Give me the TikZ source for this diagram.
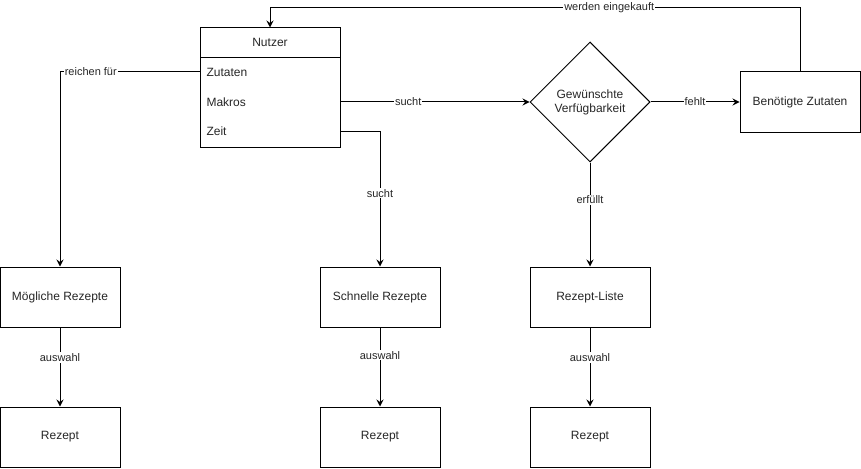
\documentclass[tikz,border=0pt]{standalone}
\usepackage{fontspec}
\setmainfont{Liberation Sans}
\usetikzlibrary{shapes.geometric,arrows.meta}
\begin{document}
\begin{tikzpicture}[x=1pt,y=-1pt,
  every node/.style={font=\fontsize{12}{14}\selectfont, text=black!85},
  box/.style={draw, line width=1pt, minimum width=120pt, minimum height=60pt, inner sep=0pt},
  flow/.style={draw, line width=1pt, -{Stealth[length=7pt,width=7pt,inset=2.5pt]}},
  lbl/.style={fill=white, inner sep=1pt, font=\fontsize{11}{13}\selectfont}
]
\useasboundingbox (0,0) rectangle (861,468);

% Nutzer list box with header and three rows
\node[draw, line width=1pt, minimum width=140pt, minimum height=119pt, inner sep=0pt] (nutzer) at (270,87.5) {};
\draw[line width=1pt] (200,57.5) -- (340,57.5);
\node (head) at (270,42.5) {Nutzer};
\node[anchor=west] (zutaten) at (203,72) {Zutaten};
\node[anchor=west] (makros) at (203,102) {Makros};
\node[anchor=west] (zeit) at (203,131) {Zeit};
\coordinate (zutL) at (200,72);
\coordinate (makR) at (340,102);
\coordinate (zeitR) at (340,131);

% decision and remaining boxes
\node[draw, line width=1pt, diamond, aspect=1, minimum width=120pt, minimum height=120pt, inner sep=0pt, align=center] (dec) at (590,102) {Gewünschte\\Verfügbarkeit};
\node[box] (ben) at (800,102) {Benötigte Zutaten};
\node[box] (moeg) at (60,297) {Mögliche Rezepte};
\node[box] (schnell) at (380,297) {Schnelle Rezepte};
\node[box] (liste) at (590,297) {Rezept-Liste};
\node[box] (r1) at (60,437) {Rezept};
\node[box] (r2) at (380,437) {Rezept};
\node[box] (r3) at (590,437) {Rezept};

% connectors
\draw[flow] (zutL) -| node[lbl, pos=0.39] {reichen für} (moeg.north);
\draw[flow] (makR) -- node[lbl, pos=0.36] {sucht} (dec.west);
\draw[flow] (zeitR) -| node[lbl, pos=0.73] {sucht} (schnell.north);
\draw[flow] (dec.east) -- node[lbl] {fehlt} (ben.west);
\draw[flow] (dec.south) -- node[lbl, pos=0.36] {erfüllt} (liste.north);
\coordinate (topR) at (800,7.5);
\coordinate (topL) at (270,7.5);
\draw[flow] (ben.north) -- (topR) -- node[lbl, pos=0.36] {werden eingekauft} (topL) -- (nutzer.north);
\draw[flow] (moeg.south) -- node[lbl, pos=0.38] {auswahl} (r1.north);
\draw[flow] (schnell.south) -- node[lbl, pos=0.35] {auswahl} (r2.north);
\draw[flow] (liste.south) -- node[lbl, pos=0.38] {auswahl} (r3.north);
\end{tikzpicture}
\end{document}
